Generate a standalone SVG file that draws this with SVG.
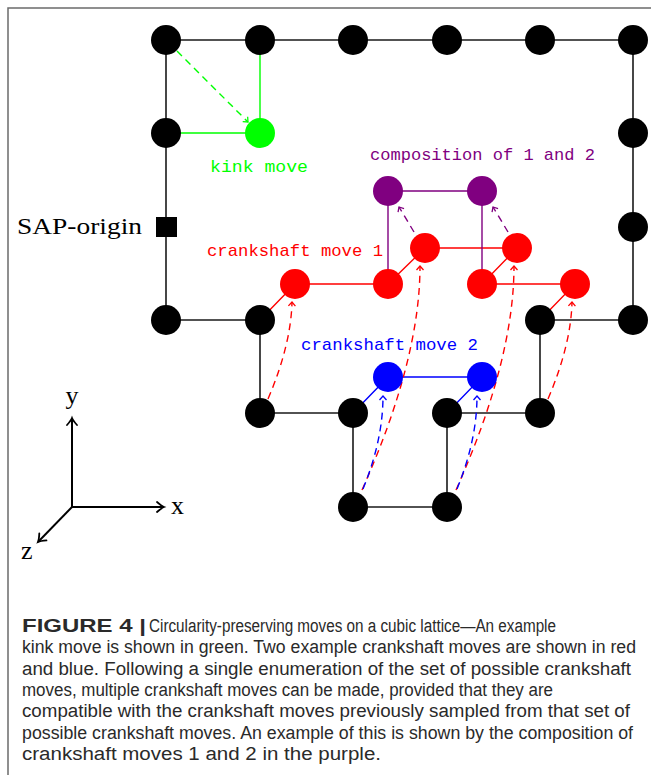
<svg xmlns="http://www.w3.org/2000/svg" width="651" height="775" viewBox="0 0 651 775">
<style>
.frame{stroke:#6b6b6b;stroke-width:1.5;fill:none}
.lk{stroke:#1a1a1a;stroke-width:1.6;fill:none}
.lg{stroke:#00ff00;stroke-width:1.4;fill:none}
.lr{stroke:#ff0000;stroke-width:1.4;fill:none}
.lb{stroke:#0000ff;stroke-width:1.4;fill:none}
.lp{stroke:#800080;stroke-width:1.4;fill:none}
.d{stroke-dasharray:7 5}
.nk{fill:#000}
.ng{fill:#00ff00}
.nr{fill:#ff0000}
.nb{fill:#0000ff}
.np{fill:#800080}
.lbl{font-family:"Liberation Mono","DejaVu Sans Mono",monospace;font-size:17px}
.ser{font-family:"Liberation Serif","DejaVu Serif",serif;fill:#000}
.cap{font-family:"Liberation Sans",Arial,sans-serif;font-size:18px;fill:#2a2a2a}
.ax{stroke:#000;stroke-width:2;fill:none}
</style>
<defs>
<marker id="mg" viewBox="-6 -6 12 12" markerWidth="12" markerHeight="12" markerUnits="userSpaceOnUse" orient="auto" refX="0" refY="0"><path d="M-4,-3.5 L0,0 L-4,3.5" fill="none" stroke="#00ff00" stroke-width="1.3" stroke-dasharray="none"/></marker>
<marker id="mr" viewBox="-6 -6 12 12" markerWidth="12" markerHeight="12" markerUnits="userSpaceOnUse" orient="auto" refX="0" refY="0"><path d="M-4,-3.5 L0,0 L-4,3.5" fill="none" stroke="#ff0000" stroke-width="1.3" stroke-dasharray="none"/></marker>
<marker id="mb" viewBox="-6 -6 12 12" markerWidth="12" markerHeight="12" markerUnits="userSpaceOnUse" orient="auto" refX="0" refY="0"><path d="M-4,-3.5 L0,0 L-4,3.5" fill="none" stroke="#0000ff" stroke-width="1.3" stroke-dasharray="none"/></marker>
<marker id="mp" viewBox="-6 -6 12 12" markerWidth="12" markerHeight="12" markerUnits="userSpaceOnUse" orient="auto" refX="0" refY="0"><path d="M-4,-3.5 L0,0 L-4,3.5" fill="none" stroke="#800080" stroke-width="1.3" stroke-dasharray="none"/></marker>
<marker id="mk" viewBox="-9 -7 12 14" markerWidth="12" markerHeight="14" markerUnits="userSpaceOnUse" orient="auto" refX="0" refY="0"><path d="M-7,-5 Q-2.5,-1 0,0 Q-2.5,1 -7,5" fill="none" stroke="#000" stroke-width="1.8" stroke-linecap="round"/></marker>
</defs>

<rect width="651" height="775" fill="#fff"/>
<path class="frame" d="M8,775 L8,8 L651,8"/>

<g id="connectors">
<path class="lk" d="M166,40 L633,40 L633,320 L540,320 L540,413 L447,413 L447,507 L353,507 L353,413 L260,413 L260,320 L166,320 L166,40"/>
<path class="lg" d="M260,40 L260,133 L166,133"/>
<path class="lg d" d="M177,51 L248,122" marker-end="url(#mg)"/>
<path class="lr" d="M260,320 L295,284 L388,284 L425,248 L517,248 L482,284 L575,284 L540,320"/>
<path class="lp" d="M388,284 L388,191 L482,191 L482,284"/>
<path class="lb" d="M353,413 L388,377 L482,377 L447,413"/>
<path class="lp d" d="M414,232 L399,207" marker-end="url(#mp)"/>
<path class="lp d" d="M508,232 L493,207" marker-end="url(#mp)"/>
<path class="lr d" d="M268,399 Q291,345 292,302" marker-end="url(#mr)"/>
<path class="lr d" d="M362,490 Q420,360 420,266" marker-end="url(#mr)"/>
<path class="lr d" d="M456,490 Q514,360 514,266" marker-end="url(#mr)"/>
<path class="lr d" d="M548,399 Q571,345 572,302" marker-end="url(#mr)"/>
<path class="lb d" d="M363,489 Q383,440 383,396" marker-end="url(#mb)"/>
<path class="lb d" d="M457,489 Q477,440 477,396" marker-end="url(#mb)"/>
</g>

<g id="n-0-0"><circle class="nk" cx="166" cy="40" r="15"/></g>
<g id="n-1-0"><circle class="nk" cx="260" cy="40" r="15"/></g>
<g id="n-2-0"><circle class="nk" cx="353" cy="40" r="15"/></g>
<g id="n-3-0"><circle class="nk" cx="447" cy="40" r="15"/></g>
<g id="n-4-0"><circle class="nk" cx="540" cy="40" r="15"/></g>
<g id="n-5-0"><circle class="nk" cx="633" cy="40" r="15"/></g>
<g id="n-5-1"><circle class="nk" cx="633" cy="133" r="15"/></g>
<g id="n-5-2"><circle class="nk" cx="633" cy="227" r="15"/></g>
<g id="n-5-3"><circle class="nk" cx="633" cy="320" r="15"/></g>
<g id="n-4-3"><circle class="nk" cx="540" cy="320" r="15"/></g>
<g id="n-4-4"><circle class="nk" cx="540" cy="413" r="15"/></g>
<g id="n-3-4"><circle class="nk" cx="447" cy="413" r="15"/></g>
<g id="n-3-5"><circle class="nk" cx="447" cy="507" r="15"/></g>
<g id="n-2-5"><circle class="nk" cx="353" cy="507" r="15"/></g>
<g id="n-2-4"><circle class="nk" cx="353" cy="413" r="15"/></g>
<g id="n-1-4"><circle class="nk" cx="260" cy="413" r="15"/></g>
<g id="n-1-3"><circle class="nk" cx="260" cy="320" r="15"/></g>
<g id="n-0-3"><circle class="nk" cx="166" cy="320" r="15"/></g>
<g id="n-0-1"><circle class="nk" cx="166" cy="133" r="15"/></g>
<g id="sap-origin"><rect x="156" y="217" width="21" height="20" fill="#000"/><text class="ser" x="17" y="234" font-size="23" textLength="125" lengthAdjust="spacingAndGlyphs">SAP-origin</text></g>

<g id="kink"><circle class="ng" cx="260" cy="133" r="15"/><text class="lbl" x="210" y="172" fill="#00ff00" textLength="98" lengthAdjust="spacingAndGlyphs">kink move</text></g>

<g id="red-1"><circle class="nr" cx="295" cy="284" r="15"/></g>
<g id="red-2"><circle class="nr" cx="388" cy="284" r="15"/></g>
<g id="red-3"><circle class="nr" cx="425" cy="248" r="15"/></g>
<g id="red-4"><circle class="nr" cx="482" cy="284" r="15"/></g>
<g id="red-5"><circle class="nr" cx="517" cy="248" r="15"/></g>
<g id="red-6"><circle class="nr" cx="575" cy="284" r="15"/></g>
<g id="red-label"><text class="lbl" x="207" y="256" fill="#ff0000" textLength="176" lengthAdjust="spacingAndGlyphs">crankshaft move 1</text></g>

<g id="blue-1"><circle class="nb" cx="388" cy="377" r="15"/></g>
<g id="blue-2"><circle class="nb" cx="482" cy="377" r="15"/></g>
<g id="blue-label"><text class="lbl" x="301" y="350" fill="#0000ff" textLength="177" lengthAdjust="spacingAndGlyphs">crankshaft move 2</text></g>

<g id="purple-1"><circle class="np" cx="388" cy="191" r="15"/></g>
<g id="purple-2"><circle class="np" cx="482" cy="191" r="15"/></g>
<g id="purple-label"><text class="lbl" x="370" y="160" fill="#800080" textLength="225" lengthAdjust="spacingAndGlyphs">composition of 1 and 2</text></g>

<g id="axes">
<path class="ax" d="M72,507 L72,418" marker-end="url(#mk)"/>
<path class="ax" d="M72,507 L164,507" marker-end="url(#mk)"/>
<path class="ax" d="M72,507 L38,542" marker-end="url(#mk)"/>
<text class="ser" x="72" y="404" font-size="26" text-anchor="middle">y</text>
<text class="ser" x="171" y="514" font-size="26">x</text>
<text class="ser" x="21" y="559" font-size="26">z</text>
</g>

<g id="caption">
<text class="cap" x="22" y="632" font-weight="bold" textLength="124" lengthAdjust="spacingAndGlyphs">FIGURE 4 |</text>
<text class="cap" x="149" y="632" textLength="407" lengthAdjust="spacingAndGlyphs">Circularity-preserving moves on a cubic lattice—An example</text>
<text class="cap" x="22" y="653" textLength="614" lengthAdjust="spacingAndGlyphs">kink move is shown in green. Two example crankshaft moves are shown in red</text>
<text class="cap" x="22" y="675" textLength="609" lengthAdjust="spacingAndGlyphs">and blue. Following a single enumeration of the set of possible crankshaft</text>
<text class="cap" x="22" y="696" textLength="531" lengthAdjust="spacingAndGlyphs">moves, multiple crankshaft moves can be made, provided that they are</text>
<text class="cap" x="22" y="717" textLength="608" lengthAdjust="spacingAndGlyphs">compatible with the crankshaft moves previously sampled from that set of</text>
<text class="cap" x="22" y="739" textLength="611" lengthAdjust="spacingAndGlyphs">possible crankshaft moves. An example of this is shown by the composition of</text>
<text class="cap" x="22" y="760" textLength="359" lengthAdjust="spacingAndGlyphs">crankshaft moves 1 and 2 in the purple.</text>
</g>
</svg>
